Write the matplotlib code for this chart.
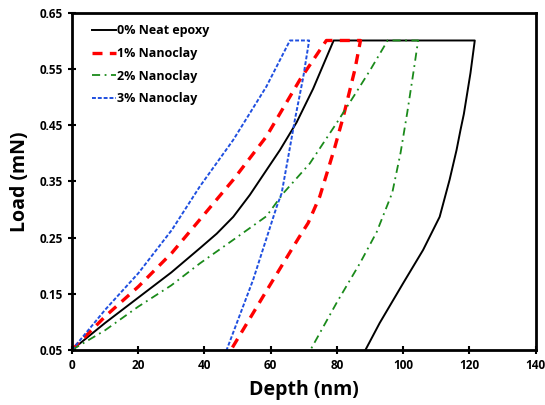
import matplotlib
matplotlib.use("Agg")
from matplotlib import pyplot as plt

# 0% neat epoxy (loading, hold, unloading)
neat_x = [0, 10, 20, 30, 38.6, 43.7, 48.7, 53.7, 58.7, 62.8, 67.8, 72.8, 79.0, 121.6,
          120.3, 118.3, 117.3, 116.1, 114.0, 111.0, 106.0, 100.0, 92.9, 88.6]
neat_y = [0.05, 0.098, 0.143, 0.188, 0.231, 0.257, 0.287, 0.326, 0.370, 0.406, 0.455, 0.515, 0.601, 0.601,
          0.543, 0.470, 0.442, 0.406, 0.353, 0.287, 0.228, 0.169, 0.098, 0.05]

# 1% nanoclay
c1_x = [0, 10.1, 20.1, 30.2, 38.6, 48.7, 58.7, 68.8, 76.8, 87.1,
        85.4, 83.4, 81.9, 79.4, 77.3, 74.8, 71.3, 68.5, 58.7, 48.0]
c1_y = [0.05, 0.110, 0.163, 0.223, 0.282, 0.353, 0.430, 0.531, 0.601, 0.601,
        0.549, 0.501, 0.465, 0.412, 0.371, 0.323, 0.276, 0.250, 0.155, 0.05]

# 2% nanoclay
c2_x = [0, 10, 20, 30, 38.6, 48.7, 58.7, 63.8, 71.8, 79.9, 85.1, 90.1, 95.3, 104.5,
        103.2, 101.2, 99.2, 96.7, 92.0, 87.0, 80.0, 72.0]
c2_y = [0.05, 0.085, 0.127, 0.165, 0.204, 0.246, 0.288, 0.329, 0.382, 0.454, 0.502, 0.549, 0.601, 0.601,
        0.549, 0.472, 0.401, 0.330, 0.260, 0.205, 0.135, 0.05]

# 3% nanoclay
c3_x = [0, 10.1, 20.1, 30.2, 38.6, 48.7, 58.7, 65.8, 71.6,
        69.8, 67.3, 65.3, 63.3, 61.8, 54.7, 46.7]
c3_y = [0.05, 0.122, 0.187, 0.264, 0.341, 0.424, 0.519, 0.601, 0.601,
        0.535, 0.460, 0.394, 0.329, 0.305, 0.175, 0.05]

plt.rcParams['font.family'] = ['Open Sans', 'DejaVu Sans']

fig = plt.figure(figsize=(5.45, 4.05), dpi=100)
ax = fig.add_axes([0.132, 0.136, 0.851, 0.832])

ax.plot(neat_x, neat_y, color='black', lw=1.4, label='0% Neat epoxy')
ax.plot(c1_x, c1_y, color='red', lw=2.4, ls=(0, (3, 2.2)), label='1% Nanoclay')
ax.plot(c2_x, c2_y, color='#1a8a1a', lw=1.3, ls=(0, (4.5, 2.5, 1, 2.5)), label='2% Nanoclay')
ax.plot(c3_x, c3_y, color='#1f4fe0', lw=1.4, ls=(0, (2, 1)), label='3% Nanoclay')

ax.set_xlim(0, 140)
ax.set_ylim(0.05, 0.65)
ax.set_xticks(range(0, 141, 20))
ax.set_yticks([0.05, 0.15, 0.25, 0.35, 0.45, 0.55, 0.65])
ax.set_yticklabels(['0.05', '0.15', '0.25', '0.35', '0.45', '0.55', '0.65'])

for s in ax.spines.values():
    s.set_linewidth(2)
ax.tick_params(direction='inout', length=6, width=1.5, labelsize=8.5)
for t in ax.get_xticklabels() + ax.get_yticklabels():
    t.set_fontweight('bold')

ax.set_xlabel('Depth (nm)', fontsize=14, fontweight='bold', labelpad=6)
ax.set_ylabel('Load (mN)', fontsize=14, fontweight='bold', labelpad=7)

leg = ax.legend(loc='upper left', frameon=False, handlelength=1.9, handletextpad=0.05,
                labelspacing=0.78, prop={'size': 9, 'weight': 'bold'},
                bbox_to_anchor=(0.02, 1.0))

plt.savefig('out.png', dpi=100)
